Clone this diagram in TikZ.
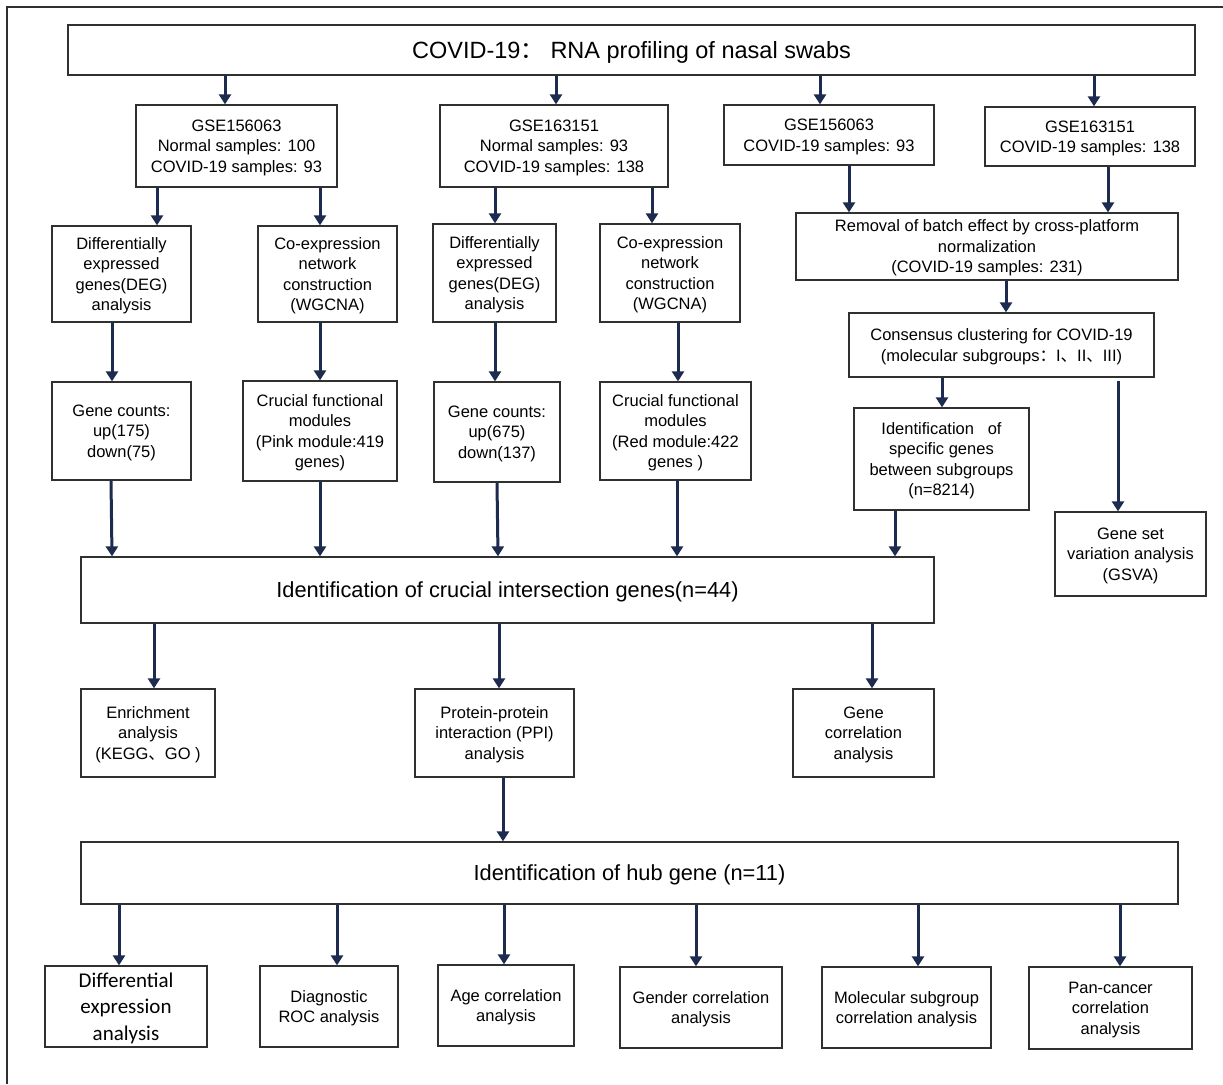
\documentclass[tikz,border=0pt]{standalone}
\usepackage{fontspec}
\setmainfont{Liberation Sans}
\newfontfamily\cjk{Noto Sans CJK SC}
\newfontfamily\carl{Carlito}
\usetikzlibrary{arrows.meta}
\definecolor{navy}{HTML}{1C2B4F}
\definecolor{edge}{HTML}{303030}
\begin{document}
\begin{tikzpicture}[x=1pt,y=-1pt,
  box/.style={draw=edge, line width=1.3pt, fill=white, align=center, inner sep=0pt,
    text depth=-6pt, font=\fontsize{16.5}{20.5}\selectfont},
  sz/.style 2 args={minimum width=#1pt, minimum height=#2pt},
  big/.style={font=\fontsize{21.8}{26}\selectfont},
  arr/.style={draw=navy, line width=3pt, -{Triangle[width=12pt,length=10pt]}}]
\useasboundingbox (0,0) rectangle (1223,1084);
\fill[white] (0,0) rectangle (1223,1084);
\draw[edge, line width=1.3pt] (7,1084) -- (7,7) -- (1223,7);

% top
\node[box, sz={1127}{50}, font=\fontsize{23.5}{27}\selectfont] (title) at (631.5,50) {COVID-19{\cjk ：} RNA profiling of nasal swabs};

\node[box, sz={201}{82}] (A1) at (236.5,146) {GSE156063\\Normal samples: 100\\COVID-19 samples: 93};
\node[box, sz={228}{82}] (A2) at (554,146) {GSE163151\\Normal samples: 93\\COVID-19 samples: 138};
\node[box, sz={210}{60}] (A3) at (829,135) {GSE156063\\COVID-19 samples: 93};
\node[box, sz={210}{59}] (A4) at (1090,136.5) {GSE163151\\COVID-19 samples: 138};

\node[box, sz={139}{96}] (B1) at (121.5,274) {Differentially\\expressed\\genes(DEG)\\analysis};
\node[box, sz={139}{96}] (B2) at (327.5,274) {Co-expression\\network\\construction\\(WGCNA)};
\node[box, sz={123}{98}] (B3) at (494.5,273) {Differentially\\expressed\\genes(DEG)\\analysis};
\node[box, sz={140}{98}] (B4) at (670,273) {Co-expression\\network\\construction\\(WGCNA)};

\node[box, sz={139}{98}] (C1) at (121.5,431) {Gene counts:\\up(175)\\down(75)};
\node[box, sz={154}{100}] (C2) at (320,431) {Crucial functional\\modules\\(Pink module:419\\genes)};
\node[box, sz={126}{100}] (C3) at (497,432) {Gene counts:\\up(675)\\down(137)};
\node[box, sz={151}{98}] (C4) at (675.5,431) {Crucial functional\\modules\\(Red module:422\\genes )};

\node[box, sz={382}{67}] (R1) at (987,246.5) {Removal of batch effect by cross-platform\\normalization\\(COVID-19 samples: 231)};
\node[box, sz={305}{64}] (R2) at (1001.5,345) {Consensus clustering for COVID-19\\(molecular subgroups{\cjk ：}I{\cjk 、}II{\cjk 、}III)};
\node[box, sz={175}{102}] (E2) at (941.5,459) {Identification\ \ \ of\\specific genes\\between subgroups\\(n=8214)};
\node[box, sz={151}{84}] (G) at (1130.5,554) {Gene set\\variation analysis\\(GSVA)};

\node[box, big, sz={853}{66}] (D) at (507.5,590) {Identification of crucial intersection genes(n=44)};

\node[box, sz={134}{88}] (F1) at (148,733) {Enrichment\\analysis\\(KEGG{\cjk 、}GO )};
\node[box, sz={159}{88}] (F2) at (494.5,733) {Protein-protein\\interaction (PPI)\\analysis};
\node[box, sz={141}{88}] (F3) at (863.5,733) {Gene\\correlation\\analysis};

\node[box, big, sz={1097}{62}] (H) at (629.5,873) {Identification of hub gene (n=11)};

\node[box, sz={162}{81}, font=\carl\fontsize{21}{26.5}\selectfont] (K1) at (126,1006.5) {Differential\\expression\\analysis};
\node[box, sz={138}{81}] (K2) at (329,1006.5) {Diagnostic\\ROC analysis};
\node[box, sz={136}{81}] (K3) at (506,1005.5) {Age correlation\\analysis};
\node[box, sz={162}{81}] (K4) at (701,1007.5) {Gender correlation\\analysis};
\node[box, sz={169}{81}] (K5) at (906.5,1007.5) {Molecular subgroup\\correlation analysis};
\node[box, sz={163}{82}] (K6) at (1110.5,1008) {Pan-cancer\\correlation\\analysis};

% arrows
\draw[arr] (title.south -| 225,0) -- (A1.north -| 225,0);
\draw[arr] (title.south -| 556,0) -- (A2.north -| 556,0);
\draw[arr] (title.south -| 820,0) -- (A3.north -| 820,0);
\draw[arr] (title.south -| 1094,0) -- (A4.north -| 1094,0);

\draw[arr] (A1.south -| 157,0) -- (B1.north -| 157,0);
\draw[arr] (A1.south -| 320,0) -- (B2.north -| 320,0);
\draw[arr] (A2.south -| 495,0) -- (B3.north -| 495,0);
\draw[arr] (A2.south -| 652,0) -- (B4.north -| 652,0);

\draw[arr] (B1.south -| 112,0) -- (C1.north -| 112,0);
\draw[arr] (B2.south -| 320,0) -- (C2.north -| 320,0);
\draw[arr] (B3.south -| 495,0) -- (C3.north -| 495,0);
\draw[arr] (B4.south -| 678,0) -- (C4.north -| 678,0);

\draw[arr] (C1.south -| 111,0) -- (D.north -| 112,0);
\draw[arr] (C2.south -| 320,0) -- (D.north -| 320,0);
\draw[arr] (C3.south -| 497,0) -- (D.north -| 498,0);
\draw[arr] (C4.south -| 677,0) -- (D.north -| 677,0);
\draw[arr] (E2.south -| 895,0) -- (D.north -| 895,0);

\draw[arr] (A3.south -| 849,0) -- (R1.north -| 849,0);
\draw[arr] (A4.south -| 1108,0) -- (R1.north -| 1108,0);
\draw[arr] (R1.south -| 1006,0) -- (R2.north -| 1006,0);
\draw[arr] (R2.south -| 942,0) -- (E2.north -| 942,0);
\draw[arr] (1118,381) -- (G.north -| 1118,0);

\draw[arr] (D.south -| 154,0) -- (F1.north -| 154,0);
\draw[arr] (D.south -| 499,0) -- (F2.north -| 499,0);
\draw[arr] (D.south -| 872,0) -- (F3.north -| 872,0);

\draw[arr] (F2.south -| 503,0) -- (H.north -| 503,0);

\draw[arr] (H.south -| 119,0) -- (K1.north -| 119,0);
\draw[arr] (H.south -| 337,0) -- (K2.north -| 337,0);
\draw[arr] (H.south -| 504,0) -- (K3.north -| 504,0);
\draw[arr] (H.south -| 696,0) -- (K4.north -| 696,0);
\draw[arr] (H.south -| 918,0) -- (K5.north -| 918,0);
\draw[arr] (H.south -| 1120,0) -- (K6.north -| 1120,0);
\end{tikzpicture}
\end{document}
